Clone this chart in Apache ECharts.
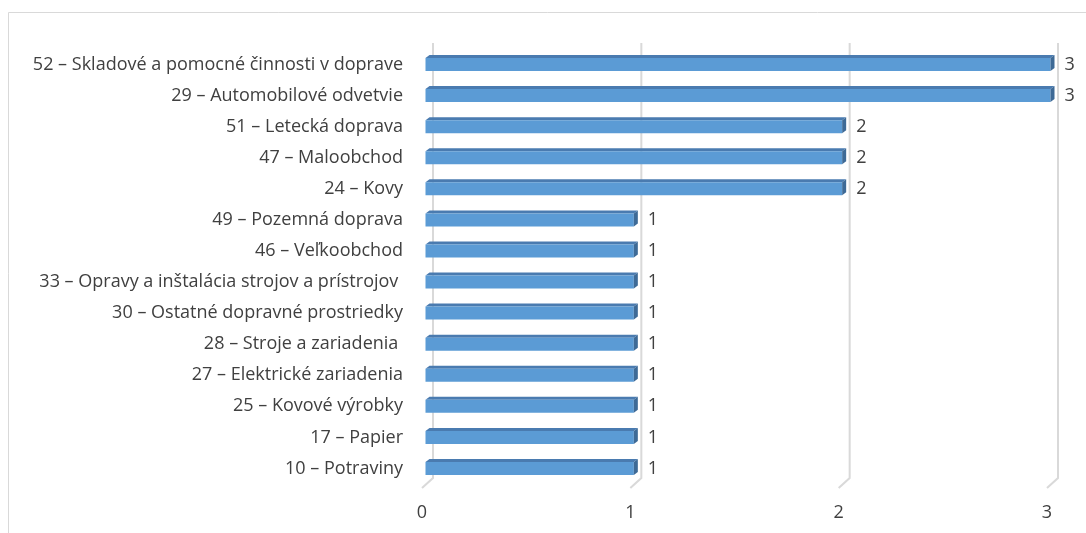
<!DOCTYPE html>
<html>
<head>
<meta charset="utf-8">
<script src="https://cdn.jsdelivr.net/npm/echarts@6/dist/echarts.min.js"></script>
<style>
html,body{margin:0;padding:0;background:#fff;}
#c{width:1086px;height:533px;}
</style>
</head>
<body>
<div id="c"></div>
<script>
const categories = [
  "52 – Skladové a pomocné činnosti v doprave",
  "29 – Automobilové odvetvie",
  "51 – Letecká doprava",
  "47 – Maloobchod",
  "24 – Kovy",
  "49 – Pozemná doprava",
  "46 – Veľkoobchod",
  "33 – Opravy a inštalácia strojov a prístrojov ",
  "30 – Ostatné dopravné prostriedky",
  "28 – Stroje a zariadenia ",
  "27 – Elektrické zariadenia",
  "25 – Kovové výrobky",
  "17 – Papier",
  "10 – Potraviny"
];
const values = [3, 3, 2, 2, 2, 1, 1, 1, 1, 1, 1, 1, 1, 1];
const xTicks = [0, 1, 2, 3];

const FONT = "Open Sans";
const FS = 18;
const TXT = "#404040";
const chart = echarts.init(document.getElementById('c'));

function barItem(params, api) {
  const v = api.value(0), idx = api.value(1);
  const p0 = api.coord([0, idx]);
  const p1 = api.coord([v, idx]);
  const h = 13, dx = 4, dy = -3, off = 3.5;
  const x0 = p0[0] + off, x1 = p1[0] + off;
  const top = p0[1] - h / 2;
  return {
    type: 'group',
    children: [
      { type: 'polygon', shape: { points: [[x0, top], [x0 + dx, top + dy], [x1 + dx, top + dy], [x1, top]] }, style: { fill: '#4a7bb0' } },
      { type: 'rect', shape: { x: x0, y: top, width: x1 - x0, height: h }, style: { fill: '#5b9bd5' } },
      { type: 'polygon', shape: { points: [[x1, top], [x1 + dx, top + dy], [x1 + dx, top + h + dy], [x1, top + h]] }, style: { fill: '#3e6a96' } },
      { type: 'text', style: { x: x1 + dx + 10, y: p0[1], text: String(v), fill: TXT, font: FS + 'px "' + FONT + '"', textVerticalAlign: 'middle', textAlign: 'left' } }
    ]
  };
}

function gridItem(params, api) {
  const v = api.value(0);
  const cs = params.coordSys;
  const x = api.coord([v, 0])[0];
  const bottom = cs.y + cs.height;
  return {
    type: 'polyline',
    shape: { points: [[x + 11, cs.y - 6], [x + 11, bottom - 6], [x, bottom + 4]] },
    style: { stroke: '#d9d9d9', lineWidth: 2, fill: null }
  };
}

chart.setOption({
  animation: false,
  backgroundColor: '#fff',
  textStyle: { fontFamily: FONT },
  graphic: [{
    type: 'rect', shape: { x: 8.5, y: 12.5, width: 1100, height: 540 },
    style: { fill: null, stroke: '#d9d9d9', lineWidth: 1 }, silent: true
  }],
  grid: { left: 422, top: 49, width: 625, height: 435, containLabel: false },
  xAxis: {
    type: 'value', min: 0, max: 3, interval: 1,
    axisLine: { show: false }, axisTick: { show: false }, splitLine: { show: false },
    axisLabel: { color: TXT, fontSize: FS, fontFamily: FONT, margin: 20 }
  },
  yAxis: {
    type: 'category', data: categories, inverse: true,
    axisLine: { show: false }, axisTick: { show: false },
    axisLabel: { color: TXT, fontSize: FS, fontFamily: FONT, margin: 19 }
  },
  series: [
    { type: 'custom', renderItem: gridItem, data: xTicks.map(v => [v, 0]), encode: { x: 0, y: 1 }, z: 1, silent: true },
    { type: 'custom', renderItem: barItem, data: values.map((v, i) => [v, i]), encode: { x: 0, y: 1 }, z: 2 }
  ]
});
</script>
</body>
</html>
